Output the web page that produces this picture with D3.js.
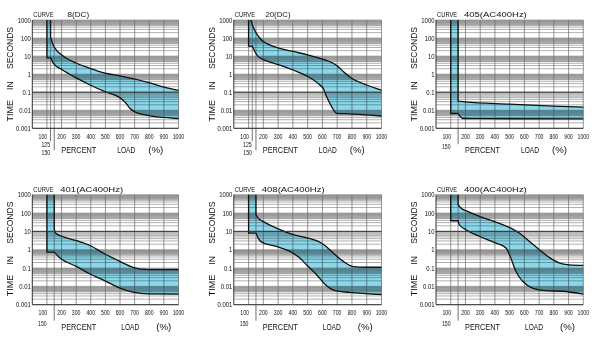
<!DOCTYPE html>
<html><head><meta charset="utf-8">
<script src="https://cdn.jsdelivr.net/npm/d3@7/dist/d3.min.js"></script>
<style>
body{margin:0;background:#fff}
text{font-family:"Liberation Sans",Arial,sans-serif;fill:#111}
</style>
</head><body>
<svg id="c" width="596" height="337"></svg>
<script>
// ---- data ----
const curveNames = ["8","20","405","401","408","400"];
const curveTypes = ["(DC)","(DC)","(AC400Hz)","(AC400Hz)","(AC400Hz)","(AC400Hz)"];
const yTicks = [1000,100,10,1,0.1,0.01,0.001];
const yTickLabels = ["1000","100","10","1","0.1","0.01","0.001"];
const xTicks = [200,300,400,500,600,700,800,900,1000];
const xTickLabels = ["200","300","400","500","600","700","800","900","1000"];
const darkLineValues = [0.1,0.1,0.1,10,10,10];
const hasTick125 = [true,true,false,false,false,false];

const upper8 = [[125,1000],[125,120],[134,63],[156,27],[202,11.5],[304,4],[395,2.1],[497,1.15],[599,0.8],[689,0.57],[791,0.35],[893,0.2],[1000,0.125]];
const lower8 = [[100,1000],[100,8],[125,8],[145,4],[202,1.8],[304,0.6],[395,0.25],[497,0.107],[590,0.055],[633,0.029],[667,0.013],[701,0.0081],[780,0.0053],[900,0.004],[1000,0.0034]];
const upper20 = [[115,1000],[131,427],[153,183],[188,78],[221,51],[312,27],[402,18],[504,11.5],[606,6.6],[673,4],[707,2.6],[741,1.4],[798,0.59],[899,0.25],[1000,0.13]];
const lower20 = [[100,1000],[100,36],[125,36],[142,18],[165,9.3],[210,6],[312,3.2],[402,1.7],[504,0.72],[583,0.25],[606,0.16],[628,0.057],[662,0.016],[696,0.0068],[786,0.0063],[899,0.0055],[1000,0.0048]];
const upper405 = [[150,1000],[150,0.032],[200,0.029],[500,0.022],[800,0.017],[1000,0.015]];
const lower405 = [[100,1000],[100,0.0066],[150,0.0066],[185,0.0035],[300,0.0034],[1000,0.0033]];
const upper401 = [[150,1000],[150,15],[158,8.1],[202,5.4],[304,3.1],[395,1.7],[497,0.58],[599,0.23],[689,0.11],[791,0.082],[1000,0.081]];
const lower401 = [[100,1000],[100,0.74],[150,0.74],[190,0.35],[304,0.12],[395,0.047],[497,0.02],[599,0.0081],[689,0.0049],[791,0.0039],[1000,0.0038]];
const upper408 = [[150,1000],[150,81],[165,53],[199,35],[289,15],[402,6.6],[504,4.3],[606,2.0],[673,0.66],[741,0.23],[809,0.12],[899,0.11],[1000,0.11]];
const lower408 = [[100,1000],[100,8.1],[150,8.1],[165,4.3],[188,2.6],[289,1.5],[380,0.81],[447,0.35],[504,0.12],[561,0.043],[617,0.013],[685,0.0058],[786,0.0047],[1000,0.0035]];
const upper400 = [[150,1000],[150,283],[169,188],[203,134],[294,66],[407,32],[508,15],[565,8.1],[633,2.9],[701,1.0],[769,0.38],[836,0.19],[904,0.15],[1000,0.14]];
const lower400 = [[100,1000],[100,38],[150,38],[158,23],[203,12.3],[294,5.4],[407,2.3],[475,1.23],[508,0.35],[542,0.066],[588,0.019],[655,0.0081],[746,0.0058],[859,0.0054],[1000,0.0038]];
const uppers = [upper8, upper20, upper405, upper401, upper408, upper400];
const lowers = [lower8, lower20, lower405, lower401, lower408, lower400];

// ---- layout ----
const colL = [32.3, 233.8, 436];
const colR = [178.5, 381.5, 583.3];
const rowTop = [20, 194.7];
const rowBot = [128.3, 304.7];

const svg = d3.select("#c");

function condense(sel, f){
  sel.each(function(){
    const w = this.getComputedTextLength();
    this.setAttribute("textLength", w*f);
    this.setAttribute("lengthAdjust","spacingAndGlyphs");
  });
}

function splitPts(pts){
  let s = 0;
  while (s < pts.length-1 && (pts[s][0]===pts[s+1][0] || pts[s][1]===pts[s+1][1])) s++;
  return [pts.slice(0,s+1), pts.slice(s)];
}

curveNames.forEach((name, i) => {
  const c = i % 3, r = Math.floor(i/3);
  const L = colL[c], R = colR[c], T = rowTop[r], B = rowBot[r];
  const x = d3.scaleLinear().domain([0,1000]).range([L,R]);
  const y = d3.scaleLog().domain([0.001,1000]).range([B,T]);
  const g = svg.append("g");

  // grey bands 5..10 of each decade
  for (let k=-3; k<=2; k++){
    const top = Math.pow(10,k+1), lo = 5*Math.pow(10,k);
    if (Math.abs(top - darkLineValues[i]) < 1e-9) continue;
    g.append("rect").attr("x",L).attr("width",R-L)
      .attr("y",y(top)).attr("height",y(lo)-y(top)).attr("fill","#c3c3c3");
  }
  // horizontal grid lines
  const hv = [];
  for (let k=-3; k<=2; k++) for (let m=1; m<=9; m++) hv.push(m*Math.pow(10,k));
  hv.push(1000);
  g.selectAll(".h").data(hv).enter().append("line")
    .attr("x1",L).attr("x2",R).attr("y1",d=>y(d)).attr("y2",d=>y(d))
    .attr("stroke","#7a7a7a").attr("stroke-width",0.6);
  // vertical grid lines
  const vv = [100].concat(hasTick125[i] ? [125] : []).concat([150]).concat(xTicks);
  g.selectAll(".v").data(vv).enter().append("line")
    .attr("x1",d=>x(d)).attr("x2",d=>x(d)).attr("y1",T).attr("y2",B)
    .attr("stroke","#6a6a6a").attr("stroke-width",0.7);

  // band
  const up = uppers[i], lo = lowers[i];
  const lin = d3.line().x(d=>x(d[0])).y(d=>y(d[1]));
  const smo = d3.line().x(d=>x(d[0])).y(d=>y(d[1])).curve(d3.curveMonotoneX);
  const strip = s => s.replace(/^M[^CLZ]*/, "");
  function fwd(pts){
    const [h,t] = splitPts(pts);
    let p = lin(h);
    if (t.length>1) p += strip(smo(t));
    return p;
  }
  function rev(pts){
    const [h,t] = splitPts(pts);
    const tr = t.slice().reverse(), hr = h.slice().reverse();
    let p = t.length>1 ? smo(tr) : lin([tr[0]]);
    if (hr.length>1) p += strip(lin(hr));
    return p;
  }
  const fd = fwd(lo) + "L" + rev(up).slice(1) + "Z";
  g.append("path").attr("d",fd).attr("fill","#8dd7ea").style("mix-blend-mode","multiply");
  g.append("path").attr("d",fwd(lo)).attr("fill","none").attr("stroke","#111").attr("stroke-width",1.3);
  g.append("path").attr("d",fwd(up)).attr("fill","none").attr("stroke","#111").attr("stroke-width",1.3);

  // dark reference line
  g.append("line").attr("x1",L).attr("x2",R).attr("y1",y(darkLineValues[i])).attr("y2",y(darkLineValues[i]))
    .attr("stroke","#333").attr("stroke-width",1);
  // axes
  g.append("line").attr("x1",L).attr("x2",L).attr("y1",T).attr("y2",B).attr("stroke","#333").attr("stroke-width",1);
  g.append("line").attr("x1",L).attr("x2",R).attr("y1",B).attr("y2",B).attr("stroke","#333").attr("stroke-width",1);

  // y tick labels
  const yl = g.selectAll(".yl").data(yTicks).enter().append("text")
    .attr("x",L-1.5).attr("y",d=>y(d)+2.6).attr("text-anchor","end")
    .attr("font-size",7.4).text((d,j)=>yTickLabels[j]);
  condense(yl, 0.8);

  // x tick labels
  const xb = B + 10.5;
  const xl = g.selectAll(".xl").data(xTicks).enter().append("text")
    .attr("x",d=>x(d)).attr("y",xb).attr("text-anchor","middle")
    .attr("font-size",7.2).text((d,j)=>xTickLabels[j]);
  condense(xl, 0.72);
  const l100 = g.append("text").attr("x",x(100)-4).attr("y",xb).attr("text-anchor","middle")
    .attr("font-size",7.2).text("100");
  condense(l100, 0.72);
  if (hasTick125[i]){
    g.append("line").attr("x1",x(125)).attr("x2",x(125)).attr("y1",B).attr("y2",B+13).attr("stroke","#333").attr("stroke-width",0.7);
    g.append("line").attr("x1",x(150)).attr("x2",x(150)).attr("y1",B).attr("y2",B+22).attr("stroke","#333").attr("stroke-width",0.7);
    const a = g.append("text").attr("x",x(125)-0.5).attr("y",B+18.5).attr("text-anchor","end").attr("font-size",7.2).text("125");
    const b = g.append("text").attr("x",x(150)-4).attr("y",B+27).attr("text-anchor","end").attr("font-size",7.2).text("150");
    condense(a,0.72); condense(b,0.72);
  } else {
    g.append("line").attr("x1",x(150)).attr("x2",x(150)).attr("y1",B).attr("y2",B+16).attr("stroke","#333").attr("stroke-width",0.7);
    const b = g.append("text").attr("x",x(150)-7.5).attr("y",B+21).attr("text-anchor","end").attr("font-size",7.2).text("150");
    condense(b,0.72);
  }

  // x axis title
  const xt = B + 25;
  const wordsX = r===0 ? [29,85,116] : [29,89,124];
  const wordsW = [35,18,15];
  ["PERCENT","LOAD","(%)"].forEach((w,j)=>{
    g.append("text").attr("x",L+wordsX[j]).attr("y",xt).attr("font-size",8.8)
      .attr("textLength",wordsW[j]).attr("lengthAdjust","spacingAndGlyphs").text(w);
  });
  // y axis title
  const ywords = [["SECONDS",28,42],["IN",65.7,8.5],["TIME",90.8,21.5]];
  ywords.forEach(([w,off,len])=>{
    g.append("text").attr("transform",`translate(${L-19},${T+off}) rotate(-90)`)
      .attr("text-anchor","middle").attr("font-size",8.8)
      .attr("textLength",len).attr("lengthAdjust","spacingAndGlyphs").text(w);
  });
  // title
  const tc = g.append("text").attr("x",L+1).attr("y",T-2.8).attr("font-size",7).text("CURVE");
  condense(tc,0.83);
  const numStart = L + 28 + (3 - name.length)*3.6;
  const typeW = curveTypes[i].length > 5 ? 52 : 18;
  g.append("text").attr("x",numStart).attr("y",T-2.8).attr("font-size",7)
    .attr("textLength", name.length*3.6 + typeW).attr("lengthAdjust","spacingAndGlyphs")
    .text(name + curveTypes[i]);
});
</script>
</body></html>
